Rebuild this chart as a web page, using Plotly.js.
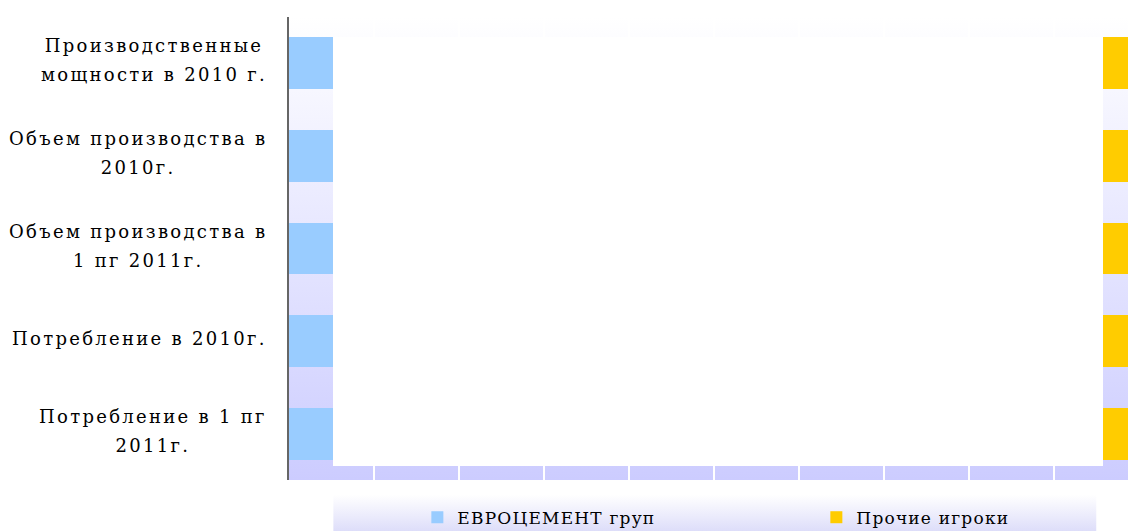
<!DOCTYPE html>
<html>
<head>
<meta charset="utf-8">
<script src="https://cdn.plot.ly/plotly-3.0.1.min.js"></script>
<style>
  body { margin: 0; overflow: hidden; background: #fff; }
  #plotArea { width: 1140px; height: 531px; }
  .annotation-text { letter-spacing: 2.3px; }
  .legendtext { letter-spacing: 1.2px; }
</style>
</head>
<body>
<div id="plotArea"></div>
<script>
// categories (top to bottom)
var categories = [
    "Производственные<br>мощности в 2010 г.",
    "Объем производства в<br>2010г.",
    "Объем производства в<br>1 пг 2011г.",
    "Потребление в 2010г.",
    "Потребление в 1 пг<br>2011г."
];

// shares, %
var evrocement = [5.2, 5.2, 5.2, 5.2, 5.2];
var middle = [90.6, 90.6, 90.6, 90.6, 90.6];
var others = [4.2, 4.2, 4.2, 4.2, 4.2];

var seriesNames = ["ЕВРОЦЕМЕНТ груп", "Прочие игроки"];

var barWidth = 0.56;

var traceEvro = {
    type: "bar",
    orientation: "h",
    name: seriesNames[0],
    y: categories,
    x: evrocement,
    width: barWidth,
    marker: {color: "#99ccff", line: {width: 0}},
    legendwidth: 354
};

// white block between the two series
var traceMiddle = {
    type: "bar",
    orientation: "h",
    y: categories,
    x: middle,
    width: [0.78, 1, 1, 1, 0.85],
    offset: [-0.28, -0.5, -0.5, -0.5, -0.5],
    marker: {color: "#ffffff", line: {width: 0}},
    showlegend: false
};

var traceOthers = {
    type: "bar",
    orientation: "h",
    name: seriesNames[1],
    y: categories,
    x: others,
    width: barWidth,
    marker: {color: "#ffcc00", line: {width: 0}},
    legendwidth: 170
};

function gradient(top, bottom) {
    var svg = "<svg xmlns='http://www.w3.org/2000/svg' width='10' height='100' preserveAspectRatio='none'>" +
        "<defs><linearGradient id='g' x1='0' y1='0' x2='0' y2='1'>" +
        "<stop offset='0' stop-color='" + top + "'/><stop offset='1' stop-color='" + bottom + "'/>" +
        "</linearGradient></defs><rect width='10' height='100' fill='url(#g)'/></svg>";
    return "data:image/svg+xml;charset=utf-8," + encodeURIComponent(svg);
}

var labelFont = {family: "DejaVu Serif", size: 18, color: "#000000"};

var annotations = categories.map(function(label, i) {
    var lines = label.split("<br>").length;
    return {
        xref: "paper", yref: "y",
        x: -0.024, y: i,
        xanchor: "right", yanchor: "middle",
        align: "center",
        text: label,
        showarrow: false,
        font: labelFont,
        yshift: 3 + (lines - 1) * 3
    };
});

var layout = {
    width: 1140,
    height: 531,
    margin: {l: 289, r: 1, t: 17, b: 51},
    paper_bgcolor: "#ffffff",
    plot_bgcolor: "rgba(0,0,0,0)",
    barmode: "stack",
    bargap: 0,
    showlegend: true,
    legend: {
        orientation: "h",
        xref: "paper", x: 0.151, xanchor: "left",
        yref: "container", y: 0.059, yanchor: "top",
        bgcolor: "rgba(0,0,0,0)",
        font: {family: "DejaVu Serif", size: 17, color: "#000000"},
        traceorder: "normal"
    },
    xaxis: {
        range: [0, 100],
        dtick: 10,
        showgrid: true,
        gridcolor: "#ffffff",
        gridwidth: 2,
        zeroline: false,
        showline: false,
        showticklabels: false,
        ticks: "",
        fixedrange: true
    },
    yaxis: {
        type: "category",
        range: [4.5, -0.5],
        showgrid: false,
        zeroline: false,
        showline: true,
        linecolor: "#666666",
        linewidth: 2,
        showticklabels: false,
        ticks: "",
        fixedrange: true
    },
    images: [
        {
            source: gradient("#ffffff", "#ccccff"),
            xref: "paper", yref: "paper",
            x: 0, y: 1, sizex: 1, sizey: 1,
            xanchor: "left", yanchor: "top",
            sizing: "stretch", layer: "below"
        },
        {
            source: gradient("#ffffff", "#d4d4f8"),
            xref: "paper", yref: "paper",
            x: 0.052, y: -0.032, sizex: 0.898, sizey: 0.1,
            xanchor: "left", yanchor: "top",
            sizing: "stretch", layer: "below"
        }
    ],
    annotations: annotations
};

Plotly.newPlot("plotArea", [traceEvro, traceMiddle, traceOthers], layout, {displayModeBar: false, staticPlot: true})
    .then(function(gd) {
        // wider line spacing for the two-line category labels
        gd.querySelectorAll(".annotation-text tspan.line").forEach(function(t) {
            var dy = parseFloat(t.getAttribute("dy"));
            if (dy) t.setAttribute("dy", (dy * 1.6 / 1.3) + "em");
        });
    });
</script>
</body>
</html>
